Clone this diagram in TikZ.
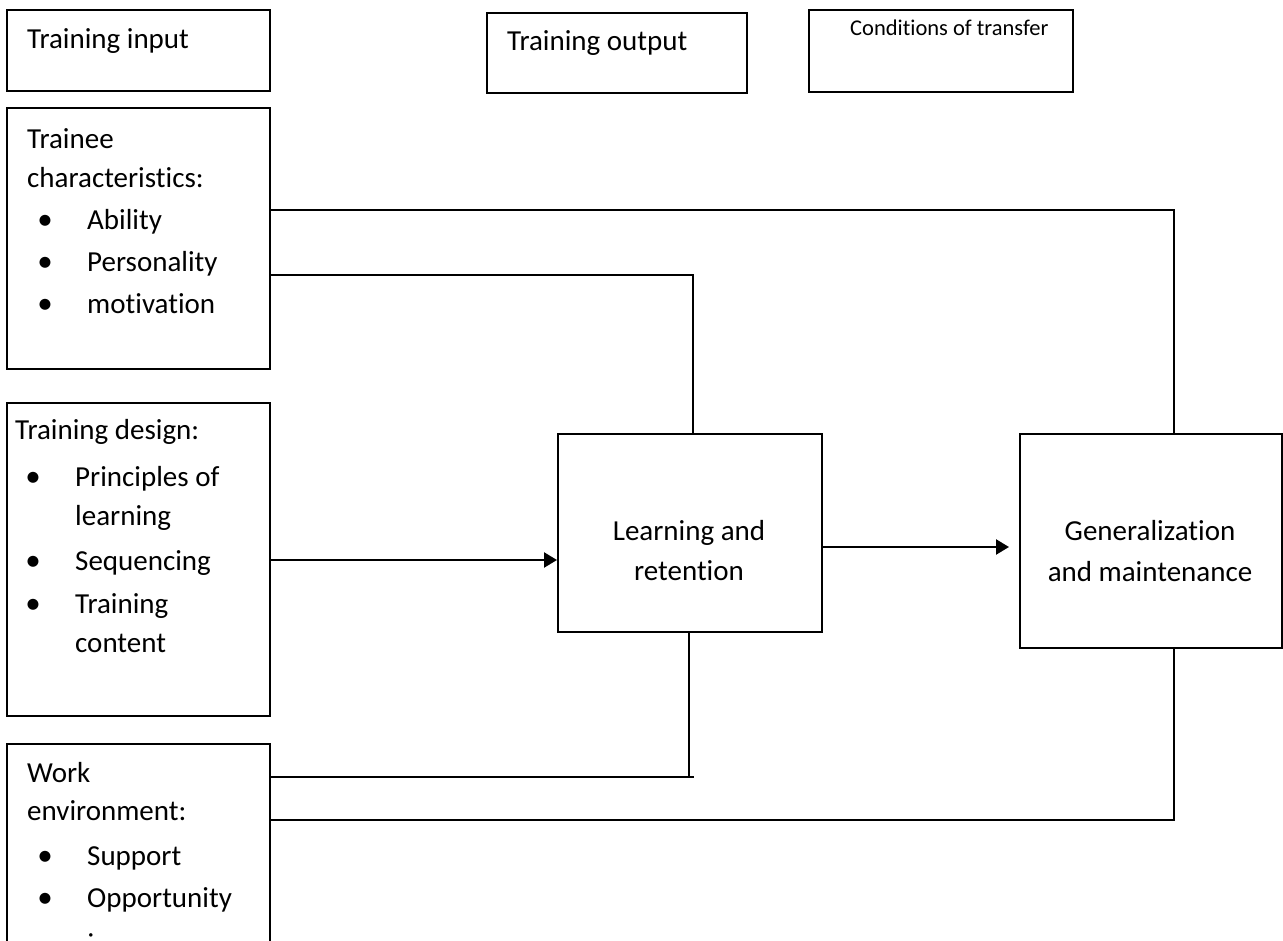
\documentclass[tikz,border=0pt]{standalone}
\usepackage{fontspec}
\setmainfont{Carlito}[Ligatures={NoCommon}]
\usetikzlibrary{arrows.meta}
\begin{document}
\begin{tikzpicture}[x=1pt,y=-1pt,
  box/.style={draw, line width=1.6pt, rectangle, inner sep=0pt, anchor=north west},
  txt/.style={anchor=base west, inner sep=0pt, font=\fontsize{29}{35}\selectfont},
  small/.style={anchor=base west, inner sep=0pt, font=\fontsize{22.5}{27}\selectfont},
  ctr/.style={anchor=base, inner sep=0pt, font=\fontsize{29}{35}\selectfont},
  bul/.style={anchor=base, inner sep=0pt, font=\fontsize{31}{35}\selectfont},
  link/.style={line width=1.8pt},
  arr/.style={line width=2.4pt, -{Triangle[length=13pt,width=15pt]}}]
\useasboundingbox (0,0) rectangle (1283,941);
\clip (0,0) rectangle (1283,941);
\fill[white] (0,0) rectangle (1283,941);
% header boxes
\node[box, minimum width=263pt, minimum height=81pt] (tin) at (6,9) {};
\node[box, minimum width=260pt, minimum height=80pt] (tout) at (486,12) {};
\node[box, minimum width=264pt, minimum height=82pt] (cond) at (808,9) {};
\node[txt] (tinT) at (27,49) {Training input};
\node[txt] (toutT) at (507,51) {Training output};
\node[small] (condT) at (850,36) {Conditions of transfer};
% input boxes
\node[box, minimum width=263pt, minimum height=261pt] (trainee) at (6,107) {};
\node[box, minimum width=263pt, minimum height=313pt] (design) at (6,402) {};
\node[box, minimum width=263pt, minimum height=240pt] (work) at (6,743) {};
% trainee text
\node[txt] (a1) at (27,149) {Trainee};
\node[txt] (a2) at (27,188) {characteristics:};
\node[bul] (ab1) at (45,230) {•};
\node[txt] (a3) at (87,230) {Ability};
\node[bul] (ab2) at (45,272) {•};
\node[txt] (a4) at (87,272) {Personality};
\node[bul] (ab3) at (45,314) {•};
\node[txt] (a5) at (87,314) {motivation};
% design text
\node[txt] (b1) at (15,439) {Training design:};
\node[bul] (bb1) at (33,486) {•};
\node[txt] (b2) at (75,486) {Principles of};
\node[txt] (b3) at (75,525) {learning};
\node[bul] (bb2) at (33,570) {•};
\node[txt] (b4) at (75,570) {Sequencing};
\node[bul] (bb3) at (33,613) {•};
\node[txt] (b5) at (75,613) {Training};
\node[txt] (b6) at (75,652) {content};
% work text
\node[txt] (w1) at (27,782) {Work};
\node[txt] (w2) at (27,820) {environment:};
\node[bul] (wb1) at (45,865) {•};
\node[txt] (w3) at (87,865) {Support};
\node[bul] (wb2) at (45,907) {•};
\node[txt] (w4) at (87,907) {Opportunity};
\node[txt] (w5) at (87,946) {:};
% outcome boxes
\node[box, minimum width=264pt, minimum height=198pt] (lr) at (557,433) {};
\node[box, minimum width=262pt, minimum height=214pt] (gen) at (1019,433) {};
\node[ctr] (lr1) at (689,540) {Learning and};
\node[ctr] (lr2) at (689,580) {retention};
\node[ctr] (g1) at (1150,540) {Generalization};
\node[ctr] (g2) at (1150,581) {and maintenance};
% connectors
\coordinate (c1) at (1174,210);
\coordinate (c2) at (693,275);
\coordinate (c3) at (689,777);
\coordinate (c3s) at (694,777);
\coordinate (c4) at (1174,820);
\draw[link] (trainee.east |- c1) -- (c1) -- (gen.north -| c1);
\draw[link] (trainee.east |- c2) -- (c2) -- (lr.north -| c2);
\draw[arr] (design.east |- 0,560) -- (lr.west |- 0,560);
\draw[arr, shorten >=10pt] (lr.east |- 0,547) -- (gen.west |- 0,547);
\draw[link] (lr.south -| c3) -- (c3);
\draw[link] (work.east |- c3) -- (c3s);
\draw[link] (gen.south -| c4) -- (c4) -- (work.east |- c4);
\end{tikzpicture}
\end{document}
